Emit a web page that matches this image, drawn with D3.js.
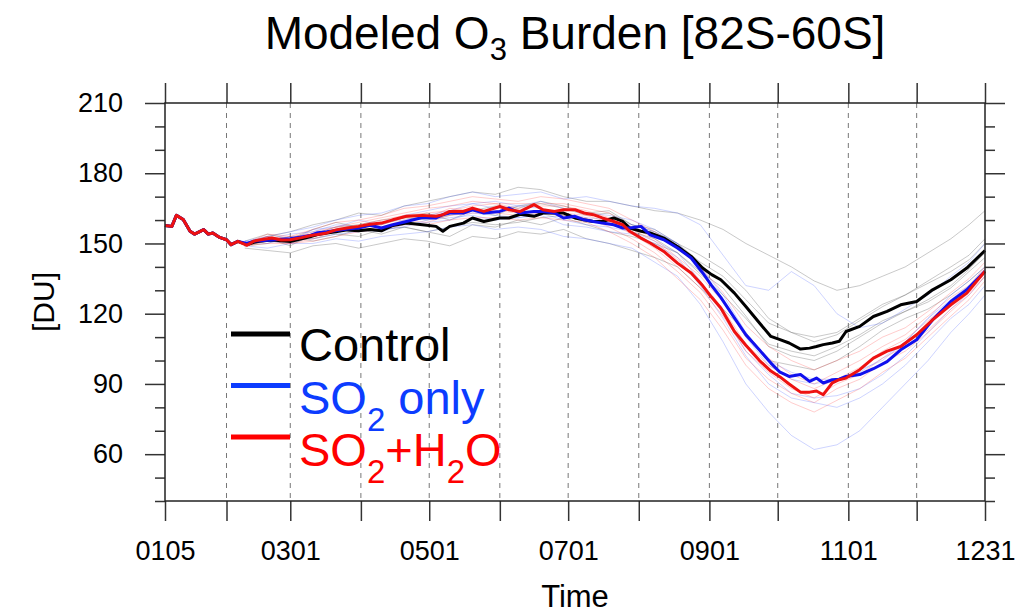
<!DOCTYPE html>
<html>
<head>
<meta charset="utf-8">
<script src="https://cdn.jsdelivr.net/npm/d3@7"></script>
<style>
  body { margin: 0; background: #fff; }
  text { font-family: "Liberation Sans", Arial, Helvetica, sans-serif; }
</style>
</head>
<body>
<div id="plot"></div>
<script>
// Day of year for the ensemble-mean curves
var mainDays = [5, 8, 10, 13, 16, 18, 22, 24, 26, 29, 32, 34, 37, 41, 44, 47, 52, 56, 60, 65,
  69, 72, 76, 80, 85, 90, 95, 100, 105, 111, 118, 124, 127, 130, 136, 140, 145, 152, 156, 161,
  167, 171, 176, 180, 185, 189, 193, 197, 202, 206, 209, 214, 218, 224, 230, 236, 241, 245, 249, 255,
  260, 266, 271, 275, 279, 284, 288, 291, 294, 298, 301, 304, 310, 316, 322, 328, 335, 342, 350, 357, 365];

// Ensemble means [DU]
var controlMean = [157.7, 157.3, 162, 160.2, 155.2, 154, 155.9, 154, 154.5, 152.6, 151.6, 149.5, 150.9, 149.5, 150.5, 151, 151.5, 151.2, 150.8, 152,
  153, 153.8, 154.5, 155, 155.8, 155.4, 156, 155.4, 157.7, 158.7, 158, 157.3, 155.2, 157.3, 158.7, 160.9, 159.4, 160.9, 160.9, 162.5,
  161.6, 163, 163, 163, 160.9, 160.1, 159.4, 159.4, 160.9, 159.4, 156.6, 155.2, 154.5, 152.3, 148.7, 144.5, 139.5, 136.7, 134.5, 128.8,
  123.1, 116, 110.3, 108.9, 107.5, 104.9, 105.3, 106, 106.8, 107.5, 108.2, 112.4, 114.6, 118.8, 121, 123.8, 125.2, 130.2, 134.5, 139.5, 147];

var so2Mean = [157.7, 157.3, 162, 160.2, 155.2, 154, 155.9, 154, 154.5, 152.6, 151.6, 149.5, 150.9, 150, 151, 151.2, 151.5, 151.8, 152, 152.8,
  153.5, 154.6, 155, 155.5, 156.2, 156.6, 157.8, 156.6, 158, 159.4, 161.1, 160.9, 162.3, 163, 163, 164.4, 163, 163.7, 165.1, 163,
  163.7, 163.7, 163, 160.9, 161.6, 160.1, 159.4, 158.7, 158, 156.6, 156.6, 157.3, 153.7, 151.6, 148.1, 143.8, 137.5, 132, 127, 118.2,
  111, 104.5, 98.9, 95, 93.2, 94, 91.1, 92.5, 90.4, 91.8, 92, 93.2, 94, 96.5, 99.5, 104.6, 108.9, 117.4, 125.2, 130.2, 138.1];

var so2h2oMean = [157.7, 157.3, 162, 160.2, 155.2, 154, 155.9, 154, 154.5, 152.6, 151.6, 149.5, 150.9, 149.2, 151, 151.6, 152.3, 151.5, 151.6, 152.5,
  153.4, 153.8, 154.5, 155.8, 156.6, 157.3, 158.2, 158.7, 160.1, 161.6, 162, 161.6, 162.3, 163.7, 163.7, 165.1, 163.7, 165.8, 164.4, 163.7,
  166.6, 164.4, 163.7, 164.4, 164.4, 163, 162.3, 160.9, 159.4, 158, 155.2, 152.3, 150.2, 146.6, 141.6, 137.4, 132, 127, 122.4, 112.4,
  106.5, 100, 95.5, 93, 90, 86.5, 86.5, 87, 85.4, 90.5, 91.8, 92.5, 96.1, 101, 104, 106, 111, 117.4, 123.8, 128.8, 138.1];

// Day of year for the individual ensemble members
var memberDays = [40, 50, 60, 70, 80, 90, 100, 110, 120, 130, 140, 150, 160, 170, 180, 190, 200, 210, 220, 230,
  240, 250, 260, 270, 280, 290, 300, 310, 320, 330, 340, 350, 358, 365];

var controlMembers = [
  [150, 153, 155, 158, 160, 163, 162, 166, 168, 170, 172, 171, 174, 173, 170, 168, 168, 166, 164, 163, 160, 156, 150, 145, 140, 134, 130, 132, 136, 140, 146, 152, 158, 164],
  [148, 147, 146, 149, 150, 148, 150, 152, 151, 149, 153, 152, 155, 154, 156, 152, 150, 147, 144, 140, 131, 122, 112, 100, 98, 96, 100, 106, 113, 118, 122, 128, 134, 140],
  [151, 154, 152, 156, 159, 157, 158, 161, 160, 162, 164, 166, 165, 168, 166, 163, 164, 158, 156, 150, 142, 136, 126, 116, 112, 110, 112, 118, 124, 128, 133, 138, 143, 150],
  [149, 150, 153, 151, 153, 156, 154, 157, 155, 153, 158, 157, 160, 158, 161, 158, 155, 153, 150, 146, 137, 128, 118, 107, 104, 102, 106, 111, 117, 121, 125, 131, 138, 144],
  [150, 152, 149, 154, 157, 158, 160, 161, 163, 160, 164, 162, 166, 167, 165, 162, 163, 158, 155, 150, 145, 139, 130, 118, 112, 108, 111, 117, 123, 128, 134, 140, 145, 152],
  [149, 151, 152, 152, 154, 153, 156, 157, 155, 157, 159, 158, 159, 161, 162, 159, 160, 155, 152, 146, 138, 131, 119, 106, 102, 100, 104, 110, 116, 121, 126, 132, 139, 146]
];

var so2Members = [
  [151, 153, 155, 157, 160, 162, 163, 166, 167, 170, 172, 170, 171, 172, 169, 170, 168, 166, 165, 163, 158, 145, 132, 130, 138, 132, 120, 114, 116, 122, 128, 136, 142, 150],
  [149, 148, 150, 150, 152, 151, 153, 154, 155, 157, 158, 156, 157, 156, 153, 152, 150, 148, 142, 136, 124, 108, 90, 78, 68, 62, 64, 70, 80, 90, 100, 112, 120, 128],
  [150, 153, 151, 156, 157, 160, 158, 162, 164, 166, 167, 168, 166, 168, 165, 163, 162, 160, 156, 150, 140, 128, 112, 100, 95, 92, 92, 96, 100, 108, 118, 128, 134, 140],
  [151, 150, 153, 152, 154, 155, 156, 157, 160, 161, 162, 160, 161, 162, 158, 157, 155, 154, 150, 144, 132, 118, 102, 90, 84, 82, 80, 84, 90, 98, 108, 118, 124, 132],
  [149, 152, 154, 155, 158, 157, 159, 160, 162, 164, 167, 165, 166, 165, 163, 161, 160, 158, 155, 150, 139, 126, 110, 98, 92, 90, 92, 95, 101, 108, 118, 126, 132, 139],
  [150, 151, 150, 153, 155, 156, 155, 158, 159, 160, 163, 162, 161, 163, 160, 158, 157, 155, 151, 146, 134, 120, 104, 94, 86, 84, 85, 88, 94, 102, 112, 122, 128, 136]
];

var so2h2oMembers = [
  [150, 154, 153, 156, 159, 160, 162, 165, 166, 168, 170, 169, 168, 170, 169, 167, 165, 160, 155, 148, 140, 129, 115, 106, 100, 96, 100, 104, 110, 114, 121, 129, 135, 142],
  [149, 150, 150, 151, 153, 155, 156, 158, 158, 160, 161, 161, 160, 161, 160, 159, 155, 150, 144, 135, 126, 113, 98, 88, 82, 78, 83, 88, 95, 101, 110, 119, 126, 134],
  [150, 153, 152, 155, 157, 159, 161, 163, 165, 166, 168, 167, 167, 167, 167, 165, 163, 157, 152, 144, 136, 125, 110, 101, 94, 90, 95, 100, 106, 111, 119, 127, 132, 140],
  [149, 151, 150, 152, 155, 156, 157, 160, 159, 162, 163, 163, 162, 163, 162, 161, 157, 152, 146, 138, 129, 116, 101, 92, 86, 82, 88, 92, 99, 104, 112, 121, 128, 136],
  [150, 152, 153, 154, 156, 158, 160, 162, 163, 164, 166, 167, 165, 166, 166, 164, 161, 156, 151, 143, 134, 122, 107, 98, 92, 88, 92, 97, 104, 109, 117, 125, 131, 139],
  [149, 153, 151, 154, 157, 157, 158, 161, 161, 165, 164, 164, 163, 164, 163, 162, 159, 154, 148, 140, 131, 119, 104, 95, 88, 84, 90, 94, 101, 106, 113, 122, 129, 136]
];

// Axis ticks
var xTickDays = [5, 32, 60, 91, 121, 152, 182, 213, 244, 274, 305, 335, 365];
var xTickLabels = ["0105", "", "0301", "", "0501", "", "0701", "", "0901", "", "1101", "", "1231"];
var yTicks = [60, 90, 120, 150, 180, 210];
var yMinorTicks = [40, 50, 70, 80, 100, 110, 130, 140, 160, 170, 190, 200];

// Legend entries: text pieces, true = subscript
var legendNames = [
  [["Control", false]],
  [["SO", false], ["2", true], [" only", false]],
  [["SO", false], ["2", true], ["+H", false], ["2", true], ["O", false]]
];
var legendColors = ["#000000", "#0c3cff", "#ff0000"];

// Set up the svg
var margin = {top: 103, left: 165},
    width = 820,
    height = 398;

var svg = d3.select("div#plot").append("svg")
    .attr("width", 1028)
    .attr("height", 613);

var g = svg.append("g")
    .attr("transform", "translate(" + margin.left + "," + margin.top + ")");

var x = d3.scaleLinear().domain([5, 365]).range([0, width]);
var y = d3.scaleLinear().domain([40, 210]).range([height, 0]);

// Dashed month gridlines (interior ticks only)
g.selectAll("line.grid")
    .data(xTickDays.slice(1, -1))
    .enter().append("line")
      .attr("class", "grid")
      .attr("x1", function(d) { return x(d); })
      .attr("x2", function(d) { return x(d); })
      .attr("y1", 0)
      .attr("y2", height)
      .attr("stroke", "#777")
      .attr("stroke-width", 1)
      .attr("stroke-dasharray", "5,5");

// Thin ensemble members
function memberLine(days) {
  return d3.line()
    .x(function(d, i) { return x(days[i]); })
    .y(function(d) { return y(d); });
}

var memberGroups = [
  {data: controlMembers, color: "#444", opacity: 0.32},
  {data: so2Members, color: "#3a50ff", opacity: 0.28},
  {data: so2h2oMembers, color: "#ff3030", opacity: 0.28}
];

memberGroups.forEach(function(grp) {
  g.append("g").selectAll("path")
    .data(grp.data)
    .enter().append("path")
      .attr("d", memberLine(memberDays))
      .attr("fill", "none")
      .attr("stroke", grp.color)
      .attr("stroke-opacity", grp.opacity)
      .attr("stroke-width", 0.9);
});

// Thick ensemble means
var meanSeries = [
  {values: controlMean, color: "#000000"},
  {values: so2Mean, color: "#1010ee"},
  {values: so2h2oMean, color: "#ee1111"}
];

g.selectAll("path.mean")
    .data(meanSeries)
    .enter().append("path")
      .attr("class", "mean")
      .attr("d", function(s) { return memberLine(mainDays)(s.values); })
      .attr("fill", "none")
      .attr("stroke", function(s) { return s.color; })
      .attr("stroke-width", 3)
      .attr("stroke-linejoin", "round");

// Axes, ticks pointing outward on all four sides
function styleAxis(sel) {
  sel.select(".domain").remove();
  sel.selectAll(".tick line").attr("stroke", "#333").attr("stroke-width", 1.5);
  sel.selectAll(".tick text").attr("fill", "#000").style("font-size", "27px")
     .style("font-family", "'Liberation Sans', Arial, sans-serif");
}

g.append("g")
    .call(d3.axisLeft(y).tickValues(yTicks).tickSize(20).tickPadding(22))
    .call(styleAxis);
g.append("g")
    .call(d3.axisLeft(y).tickValues(yMinorTicks).tickSize(10).tickFormat(""))
    .call(styleAxis);
g.append("g")
    .attr("transform", "translate(" + width + ",0)")
    .call(d3.axisRight(y).tickValues(yTicks).tickSize(20).tickFormat(""))
    .call(styleAxis);
g.append("g")
    .attr("transform", "translate(" + width + ",0)")
    .call(d3.axisRight(y).tickValues(yMinorTicks).tickSize(10).tickFormat(""))
    .call(styleAxis);
g.append("g")
    .attr("transform", "translate(0," + height + ")")
    .call(d3.axisBottom(x).tickValues(xTickDays).tickSize(20).tickPadding(20)
      .tickFormat(function(d, i) { return xTickLabels[i]; }))
    .call(styleAxis);
g.append("g")
    .call(d3.axisTop(x).tickValues(xTickDays).tickSize(20).tickFormat(""))
    .call(styleAxis);

// Plot frame
g.append("rect")
    .attr("width", width)
    .attr("height", height)
    .attr("fill", "none")
    .attr("stroke", "#222")
    .attr("stroke-width", 1.5);

// Title with subscript
var title = svg.append("text")
    .attr("x", margin.left + width / 2)
    .attr("y", 49)
    .attr("text-anchor", "middle")
    .style("font-size", "46px");
title.append("tspan").text("Modeled O");
title.append("tspan").attr("dy", 11).style("font-size", "31px").text("3");
title.append("tspan").attr("dy", -11).text(" Burden [82S-60S]");

// Axis titles
svg.append("text")
    .attr("x", margin.left + width / 2)
    .attr("y", 607)
    .attr("text-anchor", "middle")
    .style("font-size", "31px")
    .text("Time");

svg.append("text")
    .attr("transform", "translate(54,302) rotate(-90)")
    .attr("text-anchor", "middle")
    .style("font-size", "30px")
    .text("[DU]");

// Legend
var legend = svg.append("g");
legendNames.forEach(function(parts, i) {
  legend.append("line")
      .attr("x1", 231).attr("x2", 290)
      .attr("y1", 334 + i * 51.5).attr("y2", 334 + i * 51.5)
      .attr("stroke", legendColors[i])
      .attr("stroke-width", 5);
  var t = legend.append("text")
      .attr("x", 299)
      .attr("y", 361 + i * 52.5)
      .attr("fill", legendColors[i])
      .style("font-size", "47px");
  var shifted = false;
  parts.forEach(function(p) {
    var span = t.append("tspan").text(p[0]);
    if (p[1]) {
      span.attr("dy", 17).style("font-size", "33px");
      shifted = true;
    } else if (shifted) {
      span.attr("dy", -17);
      shifted = false;
    }
  });
});
</script>
</body>
</html>
